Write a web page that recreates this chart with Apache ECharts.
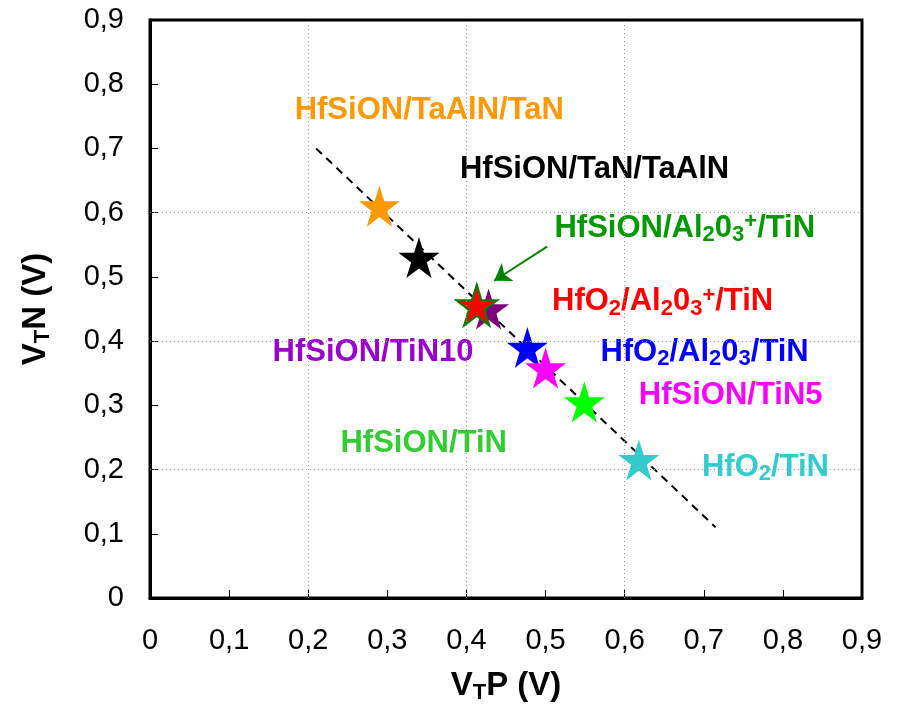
<!DOCTYPE html>
<html>
<head>
<meta charset="utf-8">
<script src="https://cdn.jsdelivr.net/npm/echarts@6/dist/echarts.min.js"></script>
<style>
  html, body { margin: 0; padding: 0; background: #fff; }
  #chart { width: 899px; height: 713px; }
</style>
</head>
<body>
<div id="chart"></div>
<script>
// star points (VTP, VTN)
var names = ['HfSiON/TaAlN/TaN', 'HfSiON/TaN/TaAlN', 'HfSiON/TiN10', 'HfO2/Al2O3+/TiN',
             'HfO2/Al2O3/TiN', 'HfSiON/TiN5', 'HfSiON/TiN', 'HfO2/TiN'];
var vtp = [0.29, 0.34, 0.428, 0.413, 0.477, 0.50, 0.549, 0.618];
var vtn = [0.61, 0.53, 0.45, 0.456, 0.39, 0.358, 0.305, 0.215];
var starColors = ['#ff9900', '#000000', '#800080', '#ff0000', '#0000ff', '#ff00ff', '#00ff00', '#33cccc'];

// trend line
var trendX = [0.21, 0.715];
var trendY = [0.70, 0.11];

// text labels
var labelText = [
  'HfSiON/TaAlN/TaN',
  'HfSiON/TaN/TaAlN',
  'HfSiON/Al{sub|2}0{sub|3}{sup|+}/TiN',
  'HfO{sub|2}/Al{sub|2}0{sub|3}{sup|+}/TiN',
  'HfSiON/TiN10',
  'HfO{sub|2}/Al{sub|2}0{sub|3}/TiN',
  'HfSiON/TiN5',
  'HfSiON/TiN',
  'HfO{sub|2}/TiN'
];
var labelX = [0.353, 0.562, 0.676, 0.648, 0.282, 0.701, 0.734, 0.346, 0.778];
var labelY = [0.759, 0.667, 0.576, 0.461, 0.383, 0.383, 0.316, 0.240, 0.204];
var labelColors = ['#ff9900', '#000000', '#009900', '#ff0000', '#9900cc', '#0000ff', '#ff00ff', '#33cc33', '#33cccc'];

// arrow pointing at the HfSiON/Al2O3+/TiN star
var arrowFrom = [0.502, 0.547];
var arrowTo = [0.435, 0.494];

var gridVals = [0.2, 0.4, 0.6];

var starPath = 'path://M50,0 L61.2,34.5 L97.6,34.5 L68.2,55.9 L79.4,90.5 L50,69.1 L20.6,90.5 L31.8,55.9 L2.4,34.5 L38.8,34.5 Z';
var FONT = 'Liberation Sans';

function fmt(v) {
  if (v === 0) return '0';
  return v.toFixed(1).replace('.', ',');
}

var chart = echarts.init(document.getElementById('chart'));

var starData = [];
for (var i = 0; i < vtp.length; i++) {
  starData.push({
    name: names[i],
    value: [vtp[i], vtn[i]],
    itemStyle: {
      color: starColors[i],
      opacity: 1,
      borderColor: i === 3 ? '#008000' : starColors[i],
      borderWidth: i === 3 ? 2 : 0
    }
  });
}

var labelData = [];
for (var j = 0; j < labelText.length; j++) {
  labelData.push({
    value: [labelX[j], labelY[j]],
    itemStyle: { opacity: 1 },
    label: {
      show: true,
      position: 'inside',
      formatter: labelText[j],
      color: labelColors[j],
      fontSize: 31,
      fontWeight: 'bold',
      fontFamily: FONT,
      rich: {
        sub: { color: labelColors[j], fontSize: 22, fontWeight: 'bold', fontFamily: FONT, padding: [14, 0, 0, 0] },
        sup: { color: labelColors[j], fontSize: 22, fontWeight: 'bold', fontFamily: FONT, padding: [0, 0, 12, 0] }
      }
    }
  });
}

var gridLines = [];
gridVals.forEach(function (g) {
  gridLines.push({ xAxis: g });
  gridLines.push({ yAxis: g });
});

var titleStyle = {
  fontSize: 33, fontWeight: 'bold', fontFamily: FONT, color: '#000',
  rich: { s: { fontSize: 22, fontWeight: 'bold', fontFamily: FONT, color: '#000', padding: [14, 0, 0, 0] } }
};

chart.setOption({
  animation: false,
  grid: {
    left: 150, right: 37, top: 20, bottom: 115,
    outerBoundsMode: 'none',
    containLabel: false,
    show: true, borderColor: '#000', borderWidth: 3
  },
  xAxis: {
    type: 'value', min: 0, max: 0.9, interval: 0.1,
    name: 'V{s|T}P (V)',
    nameLocation: 'middle',
    nameGap: 70,
    nameTextStyle: titleStyle,
    axisLine: { lineStyle: { color: '#000', width: 3 } },
    axisTick: { inside: true, length: 8, lineStyle: { color: '#000', width: 1 } },
    axisLabel: { formatter: fmt, fontSize: 29, margin: 28, color: '#000', fontFamily: FONT },
    splitLine: { show: false }
  },
  yAxis: {
    type: 'value', min: 0, max: 0.9, interval: 0.1,
    name: 'V{s|T}N (V)',
    nameLocation: 'middle',
    nameGap: 96,
    nameTextStyle: titleStyle,
    axisLine: { lineStyle: { color: '#000', width: 3 } },
    axisTick: { inside: true, length: 8, lineStyle: { color: '#000', width: 1 } },
    axisLabel: { formatter: fmt, fontSize: 29, margin: 26, color: '#000', fontFamily: FONT },
    splitLine: { show: false }
  },
  series: [
    {
      type: 'line',
      data: [[trendX[0], trendY[0]], [trendX[1], trendY[1]]],
      symbol: 'none',
      lineStyle: { color: '#000', width: 2, type: [8, 6] },
      z: 2,
      markLine: {
        silent: true,
        symbol: 'none',
        label: { show: false },
        lineStyle: { color: '#999999', type: [1, 3], width: 1 },
        data: gridLines
      }
    },
    {
      type: 'scatter',
      symbol: starPath,
      symbolSize: 41,
      data: starData,
      z: 3
    },
    {
      type: 'scatter',
      symbolSize: 0,
      data: labelData,
      z: 4
    },
    {
      type: 'line',
      data: [],
      markLine: {
        silent: true,
        symbol: ['none', 'arrow'],
        symbolSize: 16,
        label: { show: false },
        lineStyle: { color: '#008000', width: 2, type: 'solid' },
        data: [[{ coord: arrowFrom }, { coord: arrowTo }]]
      }
    }
  ]
});
</script>
</body>
</html>
